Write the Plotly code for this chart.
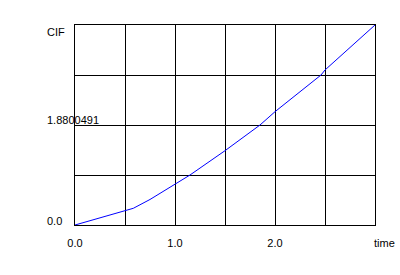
import plotly.graph_objects as go

time = [0.0, 0.5, 0.583, 0.75, 1.0, 1.15, 1.5, 1.85, 2.0, 2.46, 2.5, 3.0]
cif = [0.0, 0.263, 0.314, 0.48, 0.765, 0.94, 1.397, 1.88, 2.13, 2.82, 2.914, 3.76]

x_grid = [0, 0.5, 1.0, 1.5, 2.0, 2.5, 3.0]
x_labels = ["0.0", "", "1.0", "", "2.0", "", ""]
y_grid = [0, 0.94, 1.88, 2.82, 3.76]
y_label_vals = [0.0, 1.88, 3.76]
y_label_text = ["0.0", "1.8800491", "CIF"]
y_label_shift = [4, 5, -7]

fig = go.Figure()
fig.add_trace(go.Scatter(x=time, y=cif, mode="lines",
                         line=dict(color="#0000ff", width=1), hoverinfo="skip"))

fig.update_layout(
    width=400, height=275,
    margin=dict(l=75, r=25, t=25, b=50),
    paper_bgcolor="white", plot_bgcolor="white",
    showlegend=False,
    font=dict(family="Liberation Sans, Arial, sans-serif", size=11, color="black"),
)
fig.update_xaxes(range=[0, 3], tickvals=x_grid, ticktext=x_labels,
                 showgrid=True, gridcolor="black", gridwidth=1,
                 showline=True, linecolor="black", linewidth=1, mirror=True,
                 zeroline=False, ticks="", ticklen=0, ticklabelstandoff=8,
                 tickfont=dict(size=11))
fig.update_yaxes(range=[0, 3.76], tickvals=y_grid, showticklabels=False,
                 showgrid=True, gridcolor="black", gridwidth=1,
                 showline=True, linecolor="black", linewidth=1, mirror=True,
                 zeroline=False, ticks="")

for v, t, s in zip(y_label_vals, y_label_text, y_label_shift):
    fig.add_annotation(x=-0.1, y=v, xref="paper", yref="y", text=t, showarrow=False,
                       xanchor="left", yanchor="middle", yshift=s,
                       font=dict(size=11, color="black"))

fig.add_annotation(x=1.0333, y=0, xref="paper", yref="paper", text="time", showarrow=False,
                   xanchor="center", yanchor="top", yshift=-10,
                   font=dict(size=11, color="black"))

fig.write_html("out.html")
